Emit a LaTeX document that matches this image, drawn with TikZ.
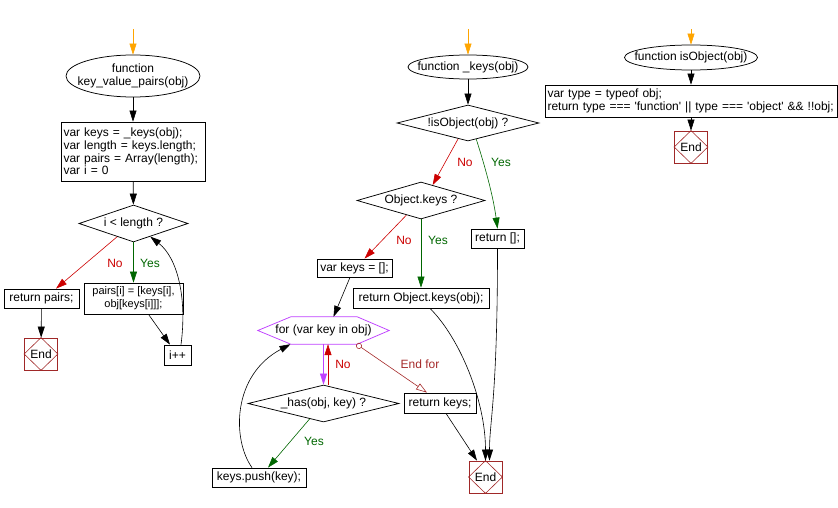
\documentclass[tikz,border=0pt]{standalone}
\usepackage{fontspec}
\setmainfont{Liberation Sans}[Ligatures=TeXOff]
\usetikzlibrary{shapes.geometric,arrows.meta,calc}
\definecolor{cOrange}{RGB}{255,165,0}
\definecolor{cRed}{RGB}{204,0,0}
\definecolor{cGreen}{RGB}{0,102,0}
\definecolor{cViolet}{RGB}{191,64,255}
\definecolor{cEnd}{RGB}{160,40,40}
\definecolor{cBrown}{RGB}{165,42,42}
\newcommand\EndMark[1]{\draw[cEnd,line width=0.6pt] (#1.north) -- (#1.east) -- (#1.south) -- (#1.west) -- cycle;}
\begin{document}
\begin{tikzpicture}[x=1pt,y=-1pt,
  every node/.style={font=\fontsize{12pt}{12.7pt}\selectfont, inner sep=0pt},
  box/.style={draw, line width=0.75pt, minimum height=19pt},
  lbox/.style={box, align=left, inner xsep=2.5pt},
  ell/.style={draw, ellipse, line width=0.75pt, inner sep=0pt},
  dia/.style={draw, diamond, aspect=4, line width=0.75pt, inner sep=0pt},
  endbox/.style={draw=cEnd, line width=0.75pt, minimum width=33pt, minimum height=32pt},
  arr/.style={line width=0.6pt, -{Triangle[length=11pt,width=7pt]}},
  endfor/.style={line width=0.6pt, cBrown, {Circle[open,length=6pt,width=6pt]}-{Triangle[open,length=11pt,width=7pt]}},
  lab/.style={inner sep=0pt}
]
\useasboundingbox (0,0) rectangle (838,508);

% ---------- left: key_value_pairs ----------
\coordinate (o1) at (133,29);
\node[ell, minimum width=134pt, minimum height=42pt, label={[align=center]center:function\\key\_value\_pairs(obj)}] (s1) at (133,76) {};
\node[lbox, text width=139pt, minimum height=59pt] (b1) at (133,151.5) {var keys = \_keys(obj);\\var length = keys.length;\\var pairs = Array(length);\\var i = 0};
\node[dia, minimum width=109pt, minimum height=37pt] (dI) at (133.5,223.5) {i < length ?};
\node[box, minimum width=75pt] (rp) at (41.5,298.5) {return pairs;};
\node[endbox] (e1) at (41,354) {End};
\node[box, minimum width=99pt, minimum height=31pt, align=center, font=\fontsize{11pt}{12.7pt}\selectfont] (pb) at (133.5,298.5) {pairs[i] = [keys[i],\\obj[keys[i]]];};
\node[box, minimum width=27pt, minimum height=20pt] (ipp) at (177.5,355) {i++};
\EndMark{e1}

\draw[arr,cOrange] (o1) -- (s1);
\draw[arr] (s1) -- (b1);
\draw[arr] (b1) -- (dI);
\draw[arr,cRed] (dI.-141) -- ([xshift=14.5]rp.north);
\draw[arr,cGreen] (dI) -- (pb);
\draw[arr] (rp) -- (e1);
\draw[arr] ([xshift=15]pb.south) -- ([xshift=-7.5]ipp.north);
\draw[arr] ([xshift=3.5]ipp.north) .. controls +(6,-45) and +(28,22) .. (dI.-38);
\node[lab,cRed] (lNo1) at (115,263) {No};
\node[lab,cGreen] (lYes1) at (150,263) {Yes};

% ---------- middle: _keys ----------
\coordinate (o2) at (468,29);
\node[ell, minimum width=120pt, minimum height=24pt, label={center:function \_keys(obj)}] (s2) at (468,67) {};
\node[dia, minimum width=142pt, minimum height=36pt] (d1) at (468,123) {!isObject(obj) ?};
\node[dia, minimum width=128pt, minimum height=37pt] (d2) at (421,200.5) {Object.keys ?};
\node[box, minimum width=53pt] (rE) at (497.5,238.5) {return [];};
\node[box, minimum width=75pt, minimum height=18pt] (vk) at (354.5,268) {var keys = [];};
\node[box, minimum width=136pt, minimum height=20pt] (rok) at (421,298) {return Object.keys(obj);};
\node[minimum width=131pt, minimum height=27pt] (forN) at (323.5,330.5) {for (var key in obj)};
\draw[cViolet, line width=0.75pt] (forN.west) -- ($(forN.north west)+(33,0)$) -- ($(forN.north east)+(-32,0)$) -- (forN.east) -- ($(forN.south east)+(-32,0)$) -- ($(forN.south west)+(33,0)$) -- cycle;
\node[dia, minimum width=151pt, minimum height=37pt] (hasN) at (323.5,403.5) {\_has(obj, key) ?};
\node[box, minimum width=94pt] (kp) at (259,477.5) {keys.push(key);};
\node[box, minimum width=72pt, minimum height=20pt] (rk) at (440,403) {return keys;};
\node[endbox] (e2) at (485.5,477) {End};
\EndMark{e2}

\draw[arr,cOrange] (o2) -- (s2);
\draw[arr] (s2) -- (d1);
\draw[arr,cRed] (d1.-122) -- (d2.53);
\draw[arr,cGreen] (d1.-63) .. controls +(8,25) and +(-4.5,-34) .. (rE.north);
\draw[arr,cRed] (d2.-135) -- ([xshift=10]vk.north);
\draw[arr,cGreen] (d2) -- (rok);
\draw[arr] ([xshift=-4.5]vk.south) -- ([xshift=10]forN.north);
\draw[arr,cViolet] (forN.south) -- (hasN.north);
\draw[arr,cRed] ([xshift=4.5]hasN.north) -- ([xshift=4.5]forN.south);
\draw[arr,cGreen] (hasN.-132) -- ([xshift=9]kp.north);
\draw[arr] ([xshift=-7]kp.north) .. controls +(-20,-28) and +(-58.5,31) .. ([xshift=-33]forN.south);
\draw[endfor] ([xshift=33]forN.south) -- ([xshift=-13]rk.north);
\draw[arr] ([xshift=6]rk.south) -- ([xshift=-8.5]e2.north);
\draw[arr] ([xshift=9]rok.south) .. controls +(30,30) and +(0,-60) .. (e2.north);
\draw[arr] (rE.south) .. controls +(0,150) and +(0,-40) .. ([xshift=4]e2.north);
\node[lab,cRed] (lNo2) at (465,162) {No};
\node[lab,cGreen] (lYes2) at (501,162) {Yes};
\node[lab,cRed] (lNo3) at (404,240) {No};
\node[lab,cGreen] (lYes3) at (438,240) {Yes};
\node[lab,cRed] (lNo4) at (343,364) {No};
\node[lab,cGreen] (lYes4) at (314,441) {Yes};
\node[lab,cBrown] (lEndFor) at (420,364) {End for};

% ---------- right: isObject ----------
\coordinate (o3) at (691,29);
\node[ell, minimum width=133pt, minimum height=25pt, label={center:function isObject(obj)}] (s3) at (691,57.5) {};
\node[lbox, text width=287pt, minimum height=32pt] (b3) at (691,101) {var type = typeof obj;\\\mbox{return type === 'function' || type === 'object' \&\& !!obj;}};
\node[endbox] (e3) at (691,147) {End};
\EndMark{e3}
\draw[arr,cOrange] (o3) -- (s3);
\draw[arr] (s3) -- (b3);
\draw[arr] (b3) -- (e3);
\end{tikzpicture}
\end{document}
